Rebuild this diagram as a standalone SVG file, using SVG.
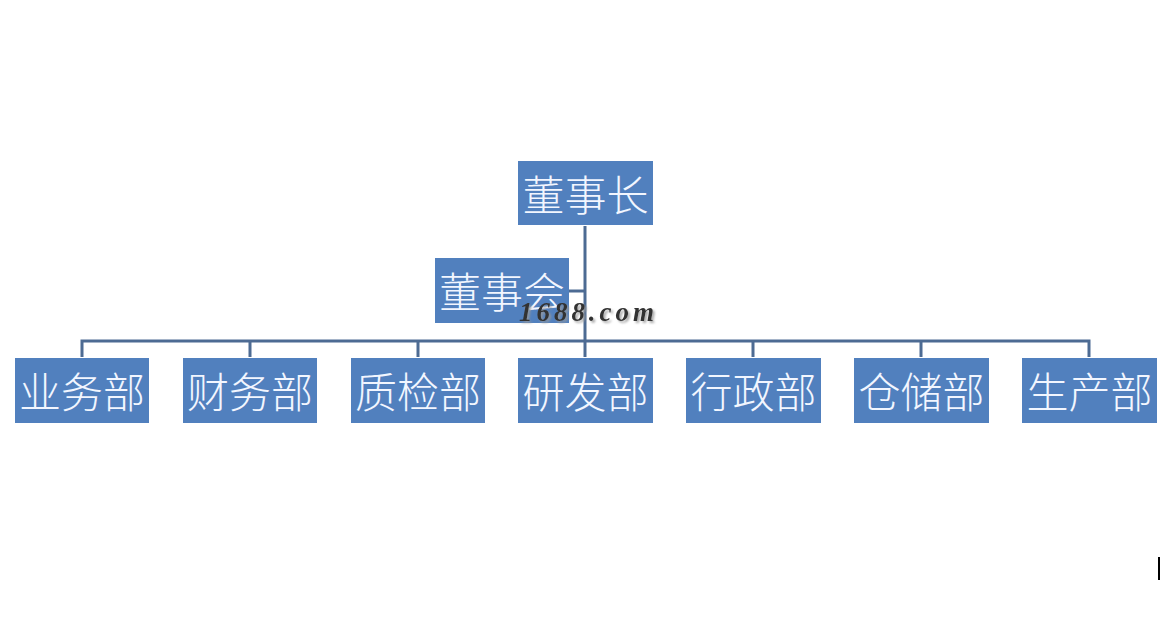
<svg xmlns="http://www.w3.org/2000/svg" width="1173" height="622" viewBox="0 0 1173 622">
<defs>
<filter id="sh" x="-10%" y="-30%" width="130%" height="160%"><feDropShadow dx="2" dy="2" stdDeviation="0.8" flood-color="#999999" flood-opacity="0.8"/></filter>
</defs>
<style>
.box{fill:#5180BE}
.lbl{font-family:"Noto Sans CJK SC","Noto Sans CJK JP",sans-serif;font-size:42px;fill:#F2F6FF;text-anchor:middle;dominant-baseline:central;font-weight:300}
.con{stroke:#4D6B93;stroke-width:3;fill:none}
.wm{font-family:"Liberation Serif",serif;font-style:italic;font-weight:bold;font-size:27px;fill:#333333}
</style>
<rect width="1173" height="622" fill="#ffffff"/>
<g id="connectors">
<path class="con" d="M585 226 V357"/>
<path class="con" d="M568 291 H585"/>
<path class="con" d="M82 357 V341 H1089 V357"/>
<path class="con" d="M250 341 V357 M418 341 V357 M753 341 V357 M921 341 V357"/>
</g>
<g id="n-chairman"><rect class="box" x="518" y="161" width="135" height="64"/><text class="lbl" x="585.5" y="192">董事长</text></g>
<g id="n-board"><rect class="box" x="435" y="258" width="134" height="65"/><text class="lbl" x="502" y="289.5">董事会</text></g>
<g id="n-sales"><rect class="box" x="15" y="358" width="134" height="65"/><text class="lbl" x="82" y="389">业务部</text></g>
<g id="n-finance"><rect class="box" x="183" y="358" width="134" height="65"/><text class="lbl" x="250" y="389">财务部</text></g>
<g id="n-qc"><rect class="box" x="351" y="358" width="134" height="65"/><text class="lbl" x="418" y="389">质检部</text></g>
<g id="n-rd"><rect class="box" x="518" y="358" width="135" height="65"/><text class="lbl" x="585.5" y="389">研发部</text></g>
<g id="n-admin"><rect class="box" x="686" y="358" width="135" height="65"/><text class="lbl" x="753.5" y="389">行政部</text></g>
<g id="n-storage"><rect class="box" x="854" y="358" width="135" height="65"/><text class="lbl" x="921.5" y="389">仓储部</text></g>
<g id="n-production"><rect class="box" x="1022" y="358" width="135" height="65"/><text class="lbl" x="1089.5" y="389">生产部</text></g>
<g id="watermark">
<text class="wm" x="519" y="321" textLength="135" lengthAdjust="spacing" filter="url(#sh)">1688.com</text>
</g>
<rect x="1158" y="557" width="2" height="23" fill="#000000"/>
</svg>
